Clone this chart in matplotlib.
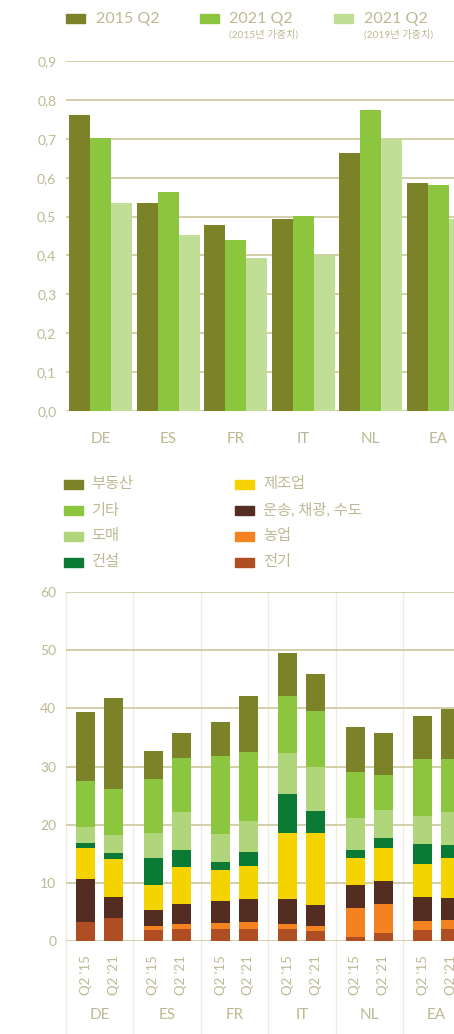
import matplotlib
matplotlib.use("Agg")
import matplotlib.pyplot as plt
from matplotlib.patches import Rectangle
from matplotlib.transforms import blended_transform_factory
import numpy as np

plt.rcParams['font.family'] = ['Lato', 'Noto Sans CJK KR', 'DejaVu Sans']

# ---- data: top chart ----
countries = ['DE', 'ES', 'FR', 'IT', 'NL', 'EA']
q2_2015 = [0.762, 0.535, 0.479, 0.494, 0.664, 0.587]
q2_2021_w2015 = [0.703, 0.563, 0.440, 0.502, 0.775, 0.582]
q2_2021_w2019 = [0.535, 0.453, 0.394, 0.401, 0.700, 0.495]
top_series = ['2015 Q2', '2021 Q2', '2021 Q2']
top_sub = ['', '(2015년 가중치)', '(2019년 가중치)']

# ---- data: bottom chart (stack order bottom -> top) ----
sectors = ['전기', '농업', '운송, 채광, 수도', '제조업', '건설', '도매', '기타', '부동산']
period_labels = ["Q2 '15", "Q2 '21"]
# each list: one bar (country, period); values follow `sectors`
de_15 = [3.27, 0.00, 7.39, 5.33, 0.86, 2.75, 7.90, 11.87]
de_21 = [3.95, 0.00, 3.61, 6.54, 1.03, 3.09, 7.91, 15.65]
es_15 = [1.89, 0.69, 2.75, 4.30, 4.64, 4.30, 9.28, 4.81]
es_21 = [2.06, 0.86, 3.44, 6.36, 2.92, 6.54, 9.28, 4.30]
fr_15 = [2.06, 1.03, 3.79, 5.33, 1.37, 4.82, 13.40, 5.85]
fr_21 = [2.06, 1.21, 3.95, 5.67, 2.41, 5.33, 11.86, 9.63]
it_15 = [2.06, 0.86, 4.30, 11.35, 6.70, 7.05, 9.80, 7.39]
it_21 = [1.72, 0.86, 3.61, 12.38, 3.78, 7.56, 9.63, 6.36]
nl_15 = [0.69, 4.98, 3.96, 4.64, 1.37, 5.51, 7.90, 7.74]
nl_21 = [1.38, 4.98, 3.96, 5.67, 1.72, 4.81, 6.02, 7.22]
ea_15 = [1.89, 1.55, 4.12, 5.68, 3.44, 4.81, 9.80, 7.39]
ea_21 = [2.06, 1.55, 3.78, 6.88, 2.23, 5.68, 9.11, 8.60]

# colours
top_colors = ['#7b8228', '#8cc63f', '#c0de96']
sector_colors = ['#ae4e22', '#f58220', '#532c22', '#f5d300',
                 '#0b7a34', '#b1d57a', '#8cc63f', '#7b8228']
txt = '#bdb994'
grid = '#cdc79c'
sep = '#eeede0'

W, H = 454, 1034
fig = plt.figure(figsize=(W / 100, H / 100), dpi=100)


def fx(x):
    return x / W


def fy(y):
    return 1 - y / H


# ================= top chart =================
ax1 = fig.add_axes([fx(66), fy(411), 1 - fx(66), fy(61) - fy(411)])
x = np.arange(len(countries))
w = 0.31
for k, vals in enumerate([q2_2015, q2_2021_w2015, q2_2021_w2019]):
    ax1.bar(x + (k - 1) * w, vals, width=w, color=top_colors[k], zorder=3)
ax1.set_xlim(-0.51, 5.23)
ax1.set_ylim(0, 0.9)
yt = np.arange(0, 0.91, 0.1)
ax1.set_yticks(yt)
ax1.set_yticklabels([f'{v:.1f}'.replace('.', ',') for v in yt])
for v in yt:
    ax1.axhline(v, color=grid, lw=1.2, zorder=1)
ax1.set_xticks(x)
ax1.set_xticklabels(countries)
ax1.tick_params(axis='y', length=0, pad=7, labelsize=10, labelcolor=txt)
ax1.tick_params(axis='x', length=0, pad=15, labelsize=11, labelcolor=txt)
for s in ax1.spines.values():
    s.set_visible(False)

# top legend
for lx, tx, lab, sub, c in zip([66, 200, 334], [96, 229, 364], top_series, top_sub, top_colors):
    fig.patches.append(Rectangle((fx(lx), fy(23)), fx(19), fy(14) - fy(23),
                                 transform=fig.transFigure, color=c))
    fig.text(fx(tx), fy(18.5), lab, fontsize=11.5, color=txt, va='center', ha='left')
    if sub:
        fig.text(fx(tx), fy(34), sub, fontsize=7.3, color=txt, va='center', ha='left')

# ================= bottom legend =================
# left column: 부동산, 기타, 도매, 건설 ; right column: 제조업, 운송, 농업, 전기
left_col = [7, 6, 5, 4]
right_col = [3, 2, 1, 0]
rows_y = [484, 510.5, 536, 562]
for col, (sx, tx) in zip([left_col, right_col], [(64, 91), (235, 263)]):
    for idx, ry in zip(col, rows_y):
        fig.patches.append(Rectangle((fx(sx), fy(ry + 4.5)), fx(19), fy(ry - 4.5) - fy(ry + 4.5),
                                     transform=fig.transFigure, color=sector_colors[idx]))
        fig.text(fx(tx), fy(ry), sectors[idx], fontsize=11, color=txt, va='center', ha='left')

# ================= bottom chart =================
ax2 = fig.add_axes([fx(66), fy(941), 1 - fx(66), fy(592) - fy(941)])
bars = [[de_15, de_21], [es_15, es_21], [fr_15, fr_21],
        [it_15, it_21], [nl_15, nl_21], [ea_15, ea_21]]
bw = 0.282
off = 0.207
positions = []
for g, pair in enumerate(bars):
    for p, vals in enumerate(pair):
        xp = g + (-off if p == 0 else off)
        positions.append(xp)
        bottom = 0
        for v, c in zip(vals, sector_colors):
            ax2.bar(xp, v, width=bw, bottom=bottom, color=c, zorder=3)
            bottom += v
ax2.set_xlim(-0.5, 5.257)
ax2.set_ylim(0, 60)
yt2 = np.arange(0, 61, 10)
ax2.set_yticks(yt2)
for v in yt2:
    ax2.axhline(v, color=grid, lw=1.2, zorder=1)
ax2.set_xticks(positions)
ax2.set_xticklabels(period_labels * len(countries), rotation=90, va='top')
ax2.tick_params(axis='y', length=0, pad=7, labelsize=10, labelcolor=txt)
ax2.tick_params(axis='x', length=0, pad=10, labelsize=9.5, labelcolor=txt)
for s in ax2.spines.values():
    s.set_visible(False)

# group separators running down to the figure edge
ax_h = fy(592) - fy(941)
ymin = -(fy(941)) / ax_h
for g in range(len(countries) + 1):
    ax2.axvline(g - 0.5, ymin=ymin, ymax=1, color=sep, lw=1, zorder=0, clip_on=False)

tr = blended_transform_factory(ax2.transData, fig.transFigure)
for g, name in enumerate(countries):
    ax2.text(g, fy(1015), name, transform=tr, ha='center', va='center',
             fontsize=11, color=txt)

fig.savefig('out.png', dpi=100)
